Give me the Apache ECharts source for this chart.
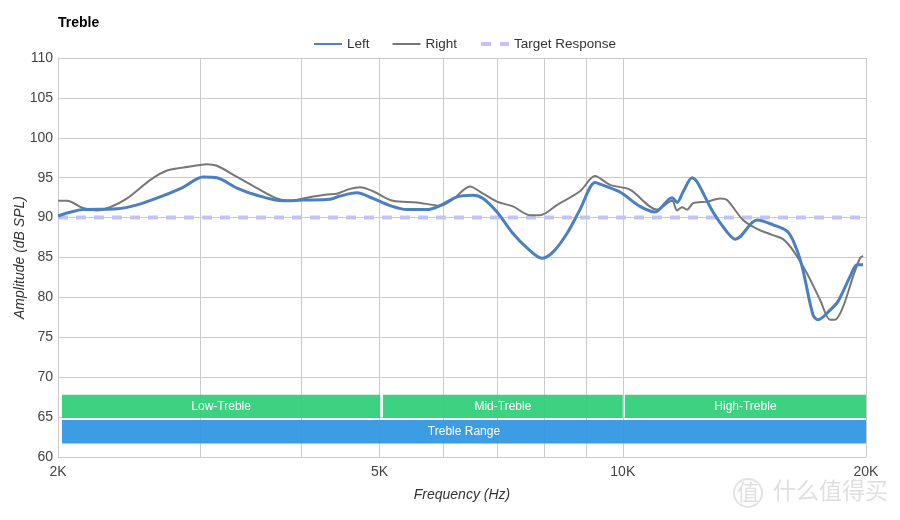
<!DOCTYPE html>
<html>
<head>
<meta charset="utf-8">
<script src="https://cdn.jsdelivr.net/npm/echarts@6/dist/echarts.min.js"></script>
<style>html,body{margin:0;padding:0;background:#fff}#c{width:900px;height:520px}</style>
</head>
<body>
<div id="c"></div>
<script>
// ---- data ----
var leftFreq = [2000,2148,2366,2505,2675,2856,3023,3146,3331,3526,3797,4020,4341,4467,4689,4907,5151,5407,5724,5940,6235,6526,6715,6988,7314,7612,7944,8202,8530,8852,9239,9372,9921,10503,10962,11507,11672,11874,12182,12357,12933,13460,13770,13968,14661,15345,16015,16431,16714,17197,17444,18051,18467,19110,19495,19830];
var leftDb   = [90.2,91.0,91.1,91.6,92.6,93.8,95.1,95.0,93.7,92.8,92.1,92.2,92.3,92.7,93.1,92.4,91.5,91.0,91.0,91.5,92.6,92.8,92.4,90.7,88.0,86.2,84.9,85.7,88.0,91.0,94.4,94.2,93.2,91.4,90.7,92.5,91.9,93.2,95.0,94.5,90.7,88.2,87.3,87.6,89.7,89.1,88.2,85.9,83.4,77.8,77.2,78.4,79.5,82.6,84.1,84.1];
var rightFreq = [2000,2052,2148,2235,2320,2435,2600,2729,2913,3058,3146,3331,3526,3733,3874,4066,4304,4429,4596,4729,4907,5195,5563,5940,6164,6470,6715,6988,7314,7677,7899,8296,8852,9239,9643,10208,11025,11507,11672,11840,12010,12217,12714,13194,13460,14088,14661,15345,15789,16244,16906,17544,18051,18310,18732,19274,19661,19830];
var rightDb   = [92.1,92.1,91.2,90.9,91.3,92.4,94.7,95.9,96.4,96.7,96.5,95.1,93.7,92.4,92.1,92.5,92.9,93.0,93.6,93.8,93.3,92.1,91.9,91.5,92.3,93.9,93.0,92.0,91.4,90.3,90.3,91.6,93.3,95.2,94.1,93.5,91.0,92.1,90.9,91.3,91.0,91.8,92.0,92.4,92.2,89.7,88.6,87.8,87.3,85.9,83.0,79.7,77.2,77.2,78.8,82.6,84.9,85.2];
var targetFreq = [2000,20000];
var targetDb   = [90,90];
var labelFreqs = [2000,5000,10000,20000];
var gridFreqs  = [2000,3000,4000,5000,6000,7000,8000,9000,10000,20000];
var bandNames  = ['Low-Treble','Mid-Treble','High-Treble','Treble Range'];
var bandFrom   = [2023,5050,10060,2023];
var bandTo     = [5010,10000,20000,20000];
var bandLow    = [64.9,64.9,64.9,61.7];
var bandHigh   = [67.8,67.8,67.8,64.65];
var bandColors = ['#2ecf77','#2ecf77','#2ecf77','#2d96e2'];
// ---- end data ----

var L = Math.log10;
function pairs(f, d){ return f.map(function(v,i){ return [L(v), d[i]]; }); }

var chart = echarts.init(document.getElementById('c'), null, {renderer:'canvas'});
var FONT = 'Liberation Sans';

var areas = bandNames.map(function(n,i){
  return [{name:n, xAxis:L(bandFrom[i]), yAxis:bandLow[i], itemStyle:{color:bandColors[i], opacity:0.93}},
          {xAxis:L(bandTo[i]), yAxis:bandHigh[i]}];
});

chart.setOption({
  animation:false,
  textStyle:{fontFamily:FONT},
  title:{text:'Treble', left:58, top:16, padding:0, textStyle:{fontFamily:FONT, fontSize:14, fontWeight:'bold', color:'#000'}},
  legend:{
    data:[
      {name:'Left'},
      {name:'Right'},
      {name:'Target Response', lineStyle:{type:[10,9], width:4, color:'#c3c3f9'}}
    ],
    left:313, top:37, padding:0, itemWidth:28, itemHeight:14, itemGap:22,
    itemStyle:{opacity:0},
    textStyle:{fontFamily:FONT, fontSize:13.5, color:'#333'}
  },
  grid:{left:58, right:34, top:58, bottom:63, containLabel:false, outerBoundsMode:'none'},
  xAxis:{
    type:'value', min:L(2000), max:L(20000),
    name:'Frequency (Hz)', nameLocation:'middle', nameGap:31, nameMoveOverlap:false,
    nameTextStyle:{fontFamily:FONT, fontSize:14, fontStyle:'italic', color:'#333'},
    axisLine:{show:true, lineStyle:{color:'#ccc'}},
    axisTick:{show:false, customValues:gridFreqs.map(L)},
    axisLabel:{customValues:labelFreqs.map(L), margin:8, color:'#444', fontSize:14, fontFamily:FONT,
      formatter:function(v){ return Math.round(Math.pow(10,v)/1000)+'K'; }},
    splitLine:{show:true, lineStyle:{color:'#ccc', width:1}}
  },
  yAxis:{
    type:'value', min:60, max:110, interval:5,
    name:'Amplitude (dB SPL)', nameLocation:'middle', nameGap:31, nameMoveOverlap:false,
    nameTextStyle:{fontFamily:FONT, fontSize:14, fontStyle:'italic', color:'#333'},
    axisLine:{show:true, lineStyle:{color:'#ccc'}},
    axisTick:{show:false},
    axisLabel:{color:'#444', fontSize:14, fontFamily:FONT, margin:5},
    splitLine:{show:true, lineStyle:{color:'#ccc', width:1}}
  },
  series:[
    {name:'bands', type:'line', data:[], silent:true, z:1,
     markArea:{silent:true, label:{show:true, position:'inside', color:'#fff', fontSize:12, fontFamily:FONT}, data:areas}},
    {name:'Target Response', type:'line', data:pairs(targetFreq,targetDb), showSymbol:false, symbol:'none', z:2,
     lineStyle:{color:'#c3c3f9', width:4, type:[10,8]}, itemStyle:{color:'#c3c3f9'}},
    {name:'Right', type:'line', data:pairs(rightFreq,rightDb), showSymbol:false, symbol:'none', smooth:0.3, z:3,
     lineStyle:{color:'#777', width:2}, itemStyle:{color:'#777'}},
    {name:'Left', type:'line', data:pairs(leftFreq,leftDb), showSymbol:false, symbol:'none', smooth:0.3, z:4,
     lineStyle:{color:'#4a7fc0', width:3}, itemStyle:{color:'#4a7fc0'}}
  ],
  graphic:[
    {type:'circle', shape:{cx:748, cy:493, r:14}, style:{fill:'none', stroke:'#e2e2e2', lineWidth:2}, silent:true},
    {type:'text', left:737, top:481, style:{text:'值', font:'22px "Noto Sans CJK SC"', fill:'#e0e0e0'}, silent:true},
    {type:'text', left:773, top:479, style:{text:'什么值得买', font:'23px "Noto Sans CJK SC"', fill:'#e0e0e0'}, silent:true}
  ]
});
</script>
</body>
</html>
